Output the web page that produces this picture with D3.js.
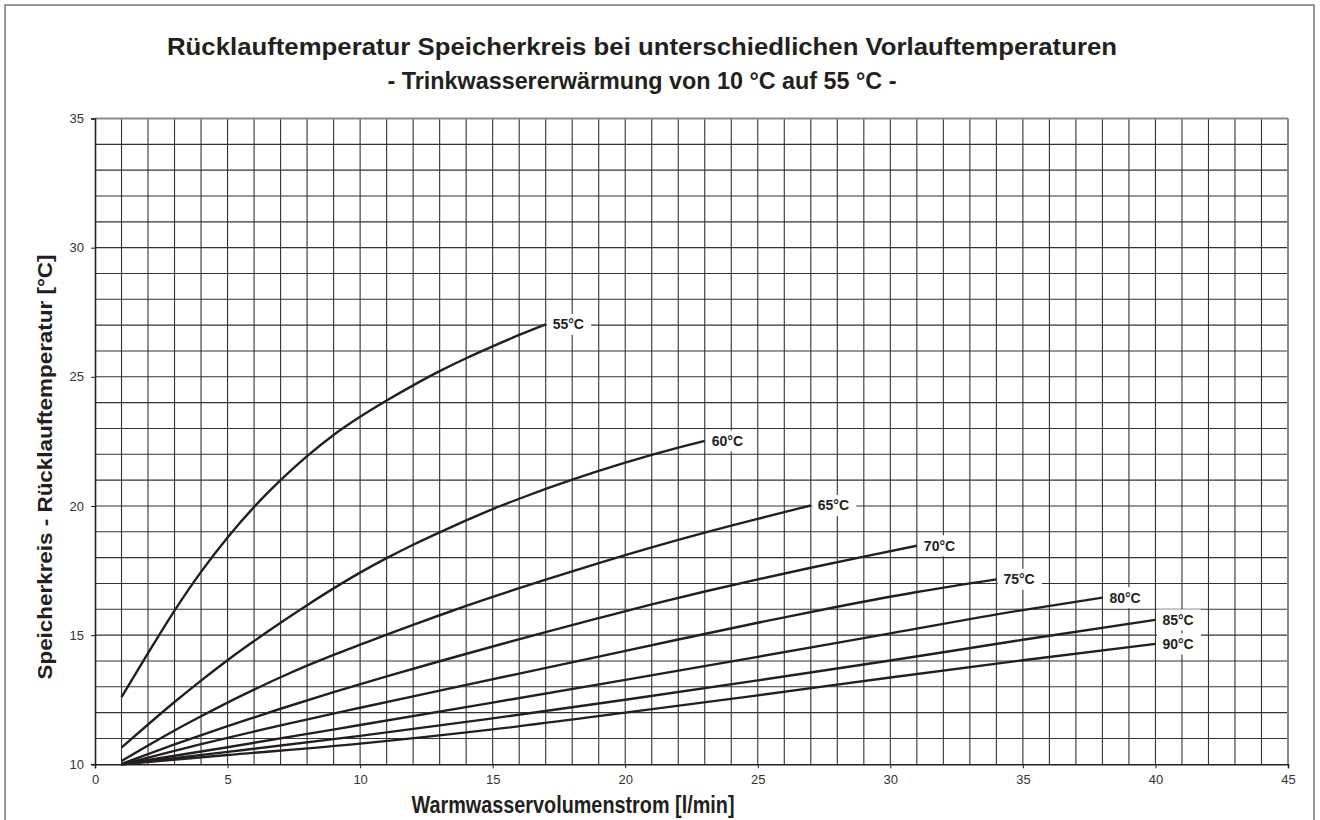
<!DOCTYPE html>
<html>
<head>
<meta charset="utf-8">
<script src="https://cdn.jsdelivr.net/npm/d3@7"></script>
<style>
  html, body { margin: 0; padding: 0; background: #fff; }
  svg { display: block; }
  text { font-family: "Liberation Sans", Arial, Helvetica, sans-serif; }
</style>
</head>
<body>
<svg id="chart" width="1320" height="820"></svg>
<script>
// ---- data ----
const titleLines = [
  "Rücklauftemperatur Speicherkreis bei unterschiedlichen Vorlauftemperaturen",
  "- Trinkwassererwärmung von 10 °C auf 55 °C -"
];
const xAxisTitle = "Warmwasservolumenstrom [l/min]";
const yAxisTitle = "Speicherkreis - Rücklauftemperatur [°C]";
const xTicks = [0, 5, 10, 15, 20, 25, 30, 35, 40, 45];
const yTicks = [10, 15, 20, 25, 30, 35];
const seriesLabels = ["55°C", "60°C", "65°C", "70°C", "75°C", "80°C", "85°C", "90°C"];

// flow [l/min] and return temperature [°C]
const flow55 = [1, 2, 3, 4, 5, 6, 7, 8, 9, 10, 11, 12, 13, 14, 15, 16, 17];
const ret55  = [12.6, 14.3, 15.95, 17.45, 18.78, 19.96, 21.0, 21.93, 22.75, 23.45, 24.08, 24.67, 25.22, 25.72, 26.18, 26.62, 27.03];
const flow60 = [1, 2, 3, 4, 5, 6, 7, 8, 9, 10, 11, 12, 13, 14, 15, 16, 17, 18, 19, 20, 21, 22, 23];
const ret60  = [10.65, 11.54, 12.41, 13.24, 14.03, 14.77, 15.48, 16.16, 16.81, 17.42, 17.98, 18.5, 18.98, 19.44, 19.88, 20.28, 20.66, 21.02, 21.36, 21.68, 21.98, 22.26, 22.52];
const flow65 = [1, 2, 3, 4, 5, 6, 7, 8, 9, 10, 11, 12, 13, 14, 15, 16, 17, 18, 19, 20, 21, 22, 23, 24, 25, 26, 27];
const ret65  = [10.13, 10.73, 11.31, 11.86, 12.39, 12.89, 13.37, 13.82, 14.24, 14.63, 15.02, 15.4, 15.77, 16.13, 16.48, 16.82, 17.15, 17.47, 17.79, 18.1, 18.4, 18.69, 18.97, 19.24, 19.5, 19.76, 20.02];
const flow70 = [1, 3, 5, 7, 9, 11, 13, 15, 17, 19, 21, 23, 25, 27, 29, 31];
const ret70  = [10.02, 10.77, 11.48, 12.15, 12.79, 13.4, 13.99, 14.56, 15.12, 15.66, 16.19, 16.69, 17.16, 17.61, 18.04, 18.46];
const flow75 = [1, 4, 7, 10, 13, 16, 19, 22, 25, 28, 31, 34];
const ret75  = [10.0, 10.78, 11.51, 12.19, 12.85, 13.51, 14.17, 14.83, 15.48, 16.1, 16.67, 17.16];
const flow80 = [1, 5, 10, 15, 20, 25, 30, 35, 38];
const ret80  = [10.0, 10.66, 11.52, 12.39, 13.27, 14.16, 15.07, 15.97, 16.45];
const flow85 = [1, 5, 10, 15, 20, 25, 30, 35, 40];
const ret85  = [10.0, 10.48, 11.1, 11.78, 12.5, 13.25, 14.02, 14.82, 15.59];
const flow90 = [1, 5, 10, 15, 20, 25, 30, 35, 40];
const ret90  = [10.0, 10.36, 10.8, 11.35, 12.0, 12.67, 13.36, 14.03, 14.66];

const flows = [flow55, flow60, flow65, flow70, flow75, flow80, flow85, flow90];
const rets  = [ret55, ret60, ret65, ret70, ret75, ret80, ret85, ret90];
const series = seriesLabels.map((label, i) => ({
  label,
  points: flows[i].map((x, j) => ({ x, y: rets[i][j] }))
}));

// ---- layout ----
const svg = d3.select("#chart");
const plot = { left: 95, right: 1288, top: 118.5, bottom: 764.3 };

const x = d3.scaleLinear().domain([0, 45]).range([plot.left, plot.right]);
const y = d3.scaleLinear().domain([10, 35]).range([plot.bottom, plot.top]);

// outer frame
svg.append("rect")
  .attr("x", 5).attr("y", 5).attr("width", 1309).attr("height", 830)
  .attr("fill", "none").attr("stroke", "#555").attr("stroke-width", 1.2);

// titles
const tg = svg.append("g").attr("font-weight", "bold").attr("fill", "#231f20");
tg.append("text").attr("x", 642).attr("y", 55).attr("text-anchor", "middle")
  .attr("font-size", 23.5).attr("textLength", 950).attr("lengthAdjust", "spacingAndGlyphs")
  .text(titleLines[0]);
tg.append("text").attr("x", 642).attr("y", 89).attr("text-anchor", "middle")
  .attr("font-size", 23.5).attr("textLength", 509).attr("lengthAdjust", "spacingAndGlyphs")
  .text(titleLines[1]);

// grid
const grid = svg.append("g").attr("stroke", "#333").attr("stroke-width", 1.1);
grid.selectAll("line.v").data(d3.range(1, 45)).join("line")
  .attr("x1", d => x(d)).attr("x2", d => x(d))
  .attr("y1", plot.top).attr("y2", plot.bottom);
grid.selectAll("line.h").data(d3.range(11, 35)).join("line")
  .attr("x1", plot.left).attr("x2", plot.right)
  .attr("y1", d => y(d)).attr("y2", d => y(d));

// top & right frame (grey)
svg.append("line").attr("x1", plot.left).attr("x2", plot.right)
  .attr("y1", y(35)).attr("y2", y(35)).attr("stroke", "#8a8a8a").attr("stroke-width", 2);
svg.append("line").attr("x1", x(45)).attr("x2", x(45))
  .attr("y1", plot.top).attr("y2", plot.bottom).attr("stroke", "#8a8a8a").attr("stroke-width", 2);

// axes
const xAxis = d3.axisBottom(x).tickValues(xTicks).tickSize(4).tickPadding(6);
const yAxis = d3.axisLeft(y).tickValues(yTicks).tickSize(4).tickPadding(7);

const gx = svg.append("g").attr("transform", `translate(0,${plot.bottom})`).call(xAxis);
const gy = svg.append("g").attr("transform", `translate(${plot.left},0)`).call(yAxis);
[gx, gy].forEach(g => {
  g.select(".domain").attr("stroke", "#222").attr("stroke-width", 1.6);
  g.selectAll(".tick line").attr("stroke", "#222").attr("stroke-width", 1);
  g.selectAll(".tick text").attr("fill", "#333").attr("font-size", 13)
    .attr("font-family", "'Liberation Sans', Arial, sans-serif");
});

// curves
const line = d3.line().x(d => x(d.x)).y(d => y(d.y)).curve(d3.curveMonotoneX);
svg.append("g").selectAll("path").data(series).join("path")
  .attr("d", d => line(d.points))
  .attr("fill", "none").attr("stroke", "#231f20").attr("stroke-width", 2.4)
  .attr("stroke-linecap", "butt");

// labels with white background
const lg = svg.append("g");
series.forEach(s => {
  const last = s.points[s.points.length - 1];
  const ex = x(last.x), ey = y(last.y);
  lg.append("rect").attr("x", ex + 1.5).attr("y", ey - 10.5)
    .attr("width", 44).attr("height", 21).attr("fill", "#fff");
  lg.append("text").attr("x", ex + 7).attr("y", ey + 5)
    .attr("font-size", 14).attr("font-weight", "bold").attr("fill", "#231f20")
    .text(s.label);
});

// axis titles
svg.append("text").attr("x", 573).attr("y", 813).attr("text-anchor", "middle")
  .attr("font-size", 24).attr("font-weight", "bold").attr("fill", "#231f20")
  .attr("textLength", 323).attr("lengthAdjust", "spacingAndGlyphs")
  .text(xAxisTitle);
svg.append("text").attr("transform", "translate(52,467) rotate(-90)")
  .attr("text-anchor", "middle")
  .attr("font-size", 20).attr("font-weight", "bold").attr("fill", "#231f20")
  .attr("textLength", 425).attr("lengthAdjust", "spacingAndGlyphs")
  .text(yAxisTitle);
</script>
</body>
</html>
